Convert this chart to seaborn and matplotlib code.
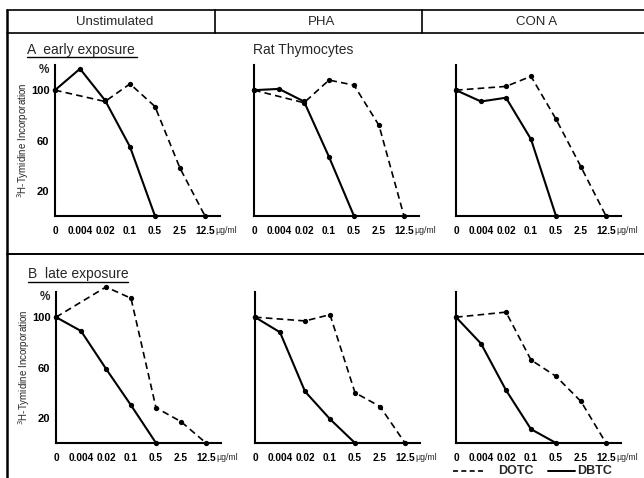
import numpy as np
import pandas as pd
import matplotlib
matplotlib.use("Agg")
import matplotlib.pyplot as plt
import seaborn as sns
from matplotlib.lines import Line2D

# концентрации (мкг/мл) и колонки
doses = ["0", "0.004", "0.02", "0.1", "0.5", "2.5", "12.5"]
columns = ["Unstimulated", "PHA", "CON A"]

# DBTC (сплошная) — индексы доз и значения
dbtc_idx = [0, 1, 2, 3, 4]
dbtc_early = {
    "Unstimulated": [100, 117, 92, 55, 0],
    "PHA": [100, 101, 91, 47, 0],
    "CON A": [100, 91, 94, 61, 0],
}
dbtc_late = {
    "Unstimulated": [100, 89, 59, 30, 0],
    "PHA": [100, 88, 41, 19, 0],
    "CON A": [100, 79, 42, 11, 0],
}

# DOTC (пунктир) — без точки 0.004
dotc_idx = [0, 2, 3, 4, 5, 6]
dotc_early = {
    "Unstimulated": [100, 91, 105, 87, 38, 0],
    "PHA": [100, 90, 108, 104, 72, 0],
    "CON A": [100, 103, 111, 77, 39, 0],
}
dotc_late = {
    "Unstimulated": [100, 124, 115, 28, 17, 0],
    "PHA": [100, 97, 102, 40, 29, 0],
    "CON A": [100, 104, 66, 53, 33, 0],
}

y_ticks = [20, 60, 100]

sns.set_style("white")
plt.rcParams["font.family"] = ["Liberation Sans", "DejaVu Sans"]

W, H = 644, 478
fig = plt.figure(figsize=(W / 100, H / 100), dpi=100)


def px_axes(left, bottom, width, height):
    return fig.add_axes([left / W, 1 - bottom / H, width / W, height / H])


def draw_panel(ax, dbtc, dotc, first):
    sns.lineplot(x=dbtc_idx, y=dbtc, ax=ax, color="black", linewidth=1.5,
                 marker="o", markersize=3.8, markeredgewidth=0, clip_on=False)
    sns.lineplot(x=dotc_idx, y=dotc, ax=ax, color="black", linewidth=1.2,
                 linestyle=(0, (4, 2.5)), marker="o", markersize=3.8,
                 markeredgewidth=0, clip_on=False)
    ax.set_xlim(0, 6.6)
    ax.set_ylim(0, 120)
    sns.despine(ax=ax)
    for s in ["left", "bottom"]:
        ax.spines[s].set_linewidth(1.5)
        ax.spines[s].set_color("black")
    ax.set_xticks(range(len(doses)))
    ax.set_xticklabels(doses, fontsize=7.3, fontweight="bold")
    ax.set_yticks(y_ticks)
    ax.tick_params(direction="in", length=4, width=1, pad=4, colors="black")
    ax.tick_params(axis="x", pad=7)
    if first:
        ax.set_yticklabels([str(v) for v in y_ticks], fontsize=8,
                           fontweight="bold")
        ax.set_ylabel("$^{3}$H-Tymidine Incorporation", fontsize=7,
                      labelpad=0)
        ax.annotate("%", xy=(0, 116), xytext=(-8, 0),
                    textcoords="offset points", fontsize=8.5,
                    fontweight="bold", ha="center", va="center",
                    annotation_clip=False)
    else:
        ax.set_yticklabels([])
    ax.annotate("\u03bcg/ml", xy=(6, 0), xytext=(7.5, -7.2),
                textcoords="offset points", fontsize=6.3,
                ha="left", va="top", annotation_clip=False)
    ax.set_xlabel("")


lefts_a = [55, 254, 456]
lefts_b = [56, 255, 456]
for i, col in enumerate(columns):
    ax = px_axes(lefts_a[i], 216, 165, 151)
    draw_panel(ax, dbtc_early[col], dotc_early[col], i == 0)
    ax = px_axes(lefts_b[i], 443, 165, 151)
    draw_panel(ax, dbtc_late[col], dotc_late[col], i == 0)


# рамка и заголовки
def fline(x, y, lw=1.2, ls="-"):
    fig.add_artist(Line2D([v / W for v in x], [1 - v / H for v in y],
                          color="black", linewidth=lw, linestyle=ls))


fline([7, 644], [10, 10])
fline([7, 644], [33, 33])
fline([7, 7], [10, 478], lw=1.8)
fline([215, 215], [10, 33])
fline([422, 422], [10, 33])
fline([7, 644], [254, 254], lw=1.4)

hdr_x = [115, 322, 537]
for x, t in zip(hdr_x, columns):
    fig.text(x / W, 1 - 22 / H, t, fontsize=9.5, ha="center", va="center")

fig.text(27 / W, 1 - 50 / H, "A  early exposure", fontsize=10,
         ha="left", va="center")
fline([27, 137], [57, 57], lw=1.0)
fig.text(253 / W, 1 - 50 / H, "Rat Thymocytes", fontsize=10,
         ha="left", va="center")
fig.text(28 / W, 1 - 274 / H, "B  late exposure", fontsize=10,
         ha="left", va="center")
fline([28, 128], [282, 282], lw=1.0)

# легенда
fline([453, 483], [471, 471], ls=(0, (3, 2)))
fig.text(498 / W, 1 - 471 / H, "DOTC", fontsize=9, fontweight="bold",
         ha="left", va="center")
fline([548, 575], [471, 471], lw=1.4)
fig.text(577 / W, 1 - 471 / H, "DBTC", fontsize=9, fontweight="bold",
         ha="left", va="center")

fig.savefig("out.png", dpi=100)
